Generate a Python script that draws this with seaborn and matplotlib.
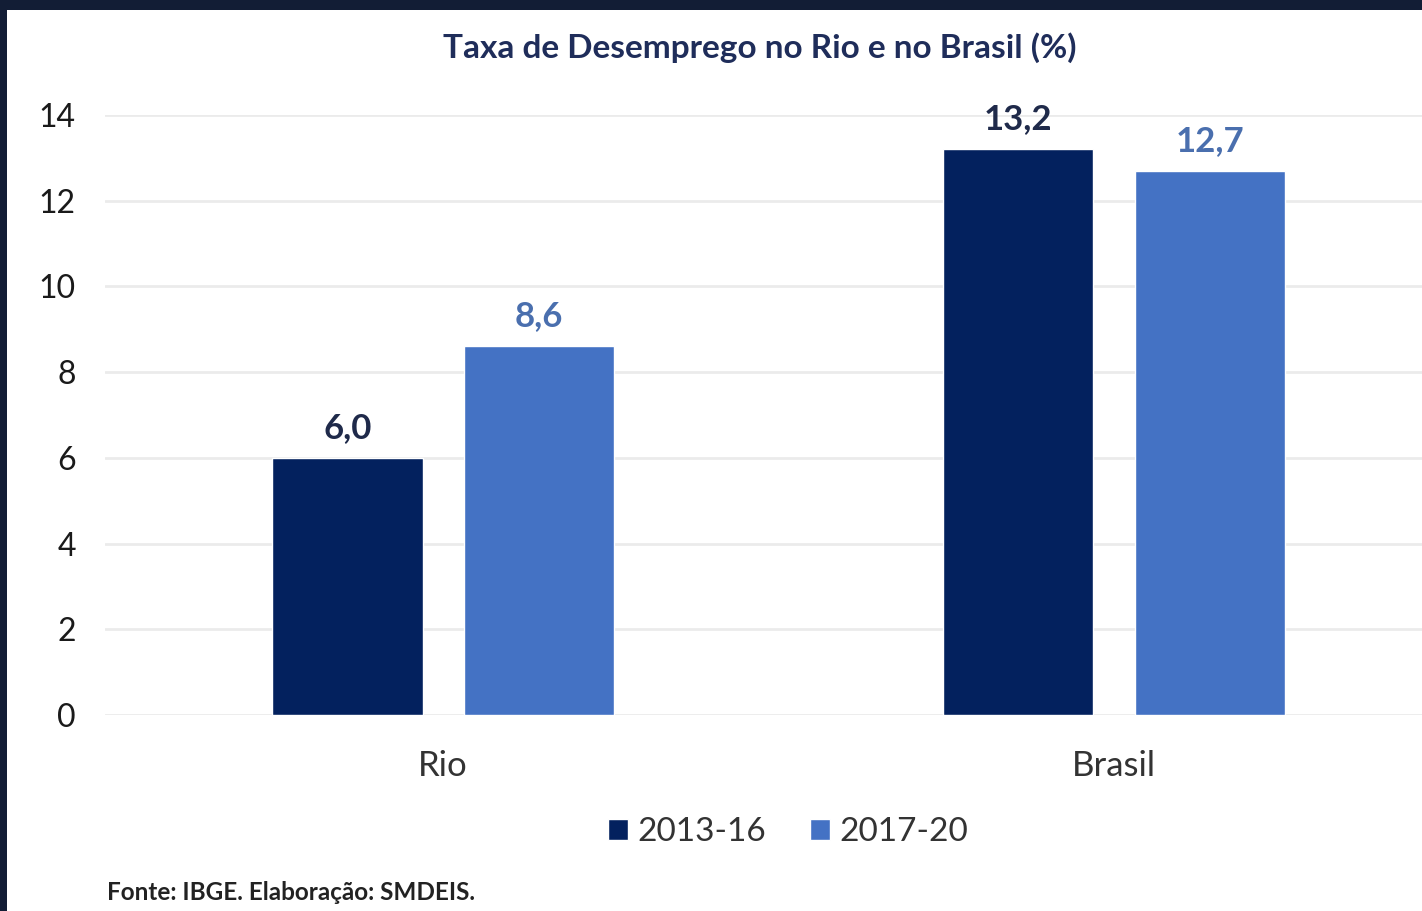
import pandas as pd
import matplotlib.pyplot as plt
import seaborn as sns
from matplotlib.patches import Rectangle

regions = ["Rio", "Brasil"]
periods = ["2013-16", "2017-20"]
rate_2013_16 = [6.0, 13.2]
rate_2017_20 = [8.6, 12.7]

bar_colors = ["#03215e", "#4472c4"]
label_colors = ["#1f2a4a", "#4a6fae"]
title_color = "#1f2d5a"
frame_color = "#121d35"

df = pd.DataFrame({
    "Region": regions * 2,
    "Period": [periods[0]] * 2 + [periods[1]] * 2,
    "Rate": rate_2013_16 + rate_2017_20,
})

sns.set_theme(style="white")
plt.rcParams["font.family"] = ["Lato", "DejaVu Sans"]

W, H = 1422, 911
fig = plt.figure(figsize=(W / 100, H / 100), dpi=100)
fig.patch.set_facecolor(frame_color)
fig.add_artist(Rectangle((7 / W, 0), 1, 1 - 10 / H, transform=fig.transFigure,
                         facecolor="white", edgecolor="none", zorder=-1))

ax = fig.add_axes([105 / W, 1 - 715 / H, 1 - 105 / W, 600 / H])
sns.barplot(data=df, x="Region", y="Rate", hue="Period", order=regions,
            hue_order=periods, palette=bar_colors, width=0.57, gap=0.215,
            saturation=1, ax=ax)

ax.set_xlim(-0.504, 1.459)
ax.set_ylim(0, 14)
ax.set_yticks(range(0, 15, 2))
ax.yaxis.grid(True, color="#ebebeb", linewidth=2)
ax.set_axisbelow(True)
for s in ax.spines.values():
    s.set_visible(False)
ax.set_xlabel("")
ax.set_ylabel("")
ax.tick_params(axis="y", length=0, pad=21, labelsize=23, labelcolor="#1a1a1a")
ax.tick_params(axis="x", length=0, pad=25, labelsize=25, labelcolor="#333333")

for cont, col in zip(ax.containers, label_colors):
    ax.bar_label(cont, labels=[f"{v:.1f}".replace(".", ",") for v in cont.datavalues],
                 padding=10, fontsize=25, fontweight="bold", color=col)

handles, labels = ax.get_legend_handles_labels()
ax.get_legend().remove()
fig.legend(handles, labels, loc="center", bbox_to_anchor=(788 / W, 1 - 832 / H),
           ncol=2, frameon=False, fontsize=24, handlelength=0.6, handleheight=0.6,
           handletextpad=0.3, columnspacing=1.3, labelcolor="#333333")

fig.text(760 / W, 1 - 48 / H, "Taxa de Desemprego no Rio e no Brasil (%)",
         ha="center", va="center", fontsize=24, fontweight="bold", color=title_color)
fig.text(107 / W, 1 - 892 / H, "Fonte: IBGE. Elaboração: SMDEIS.",
         ha="left", va="center", fontsize=17.5, fontweight="bold", color="#222222")

fig.savefig("out.png", dpi=100, facecolor=fig.get_facecolor())
